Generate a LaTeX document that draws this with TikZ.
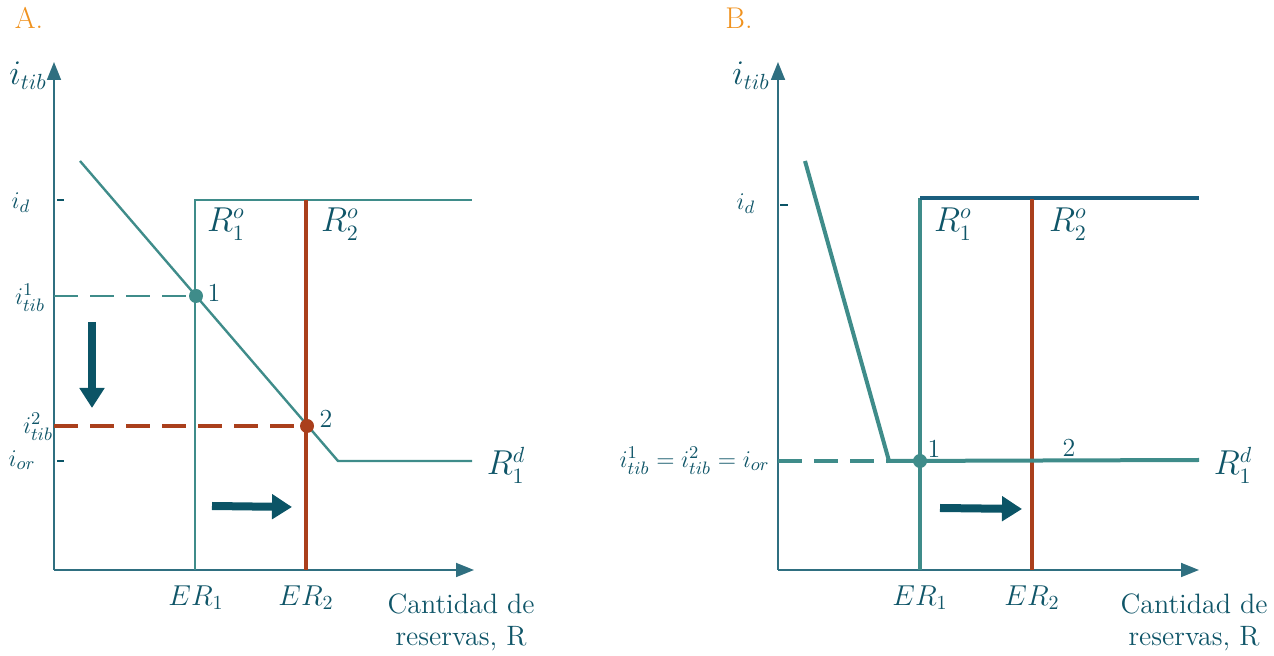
\documentclass[tikz,border=0pt]{standalone}
\usepackage{amsmath}
\usetikzlibrary{arrows.meta}
\definecolor{axc}{HTML}{2F6F80}
\definecolor{txt}{HTML}{0F5568}
\definecolor{teal}{HTML}{3F8C8A}
\definecolor{rust}{HTML}{AA3F1C}
\definecolor{dblue}{HTML}{1A5E7E}
\definecolor{arr}{HTML}{0B5466}
\definecolor{org}{HTML}{F0921E}
\tikzset{
  axis/.style={draw=axc, line width=0.9pt, -{Triangle[length=9pt,width=7pt]}},
  lbl/.style={text=txt, font=\fontsize{13}{15}\selectfont, inner sep=1pt},
  rlbl/.style={text=txt, font=\fontsize{16}{18}\selectfont, inner sep=1pt},
  erlbl/.style={text=txt, font=\fontsize{14}{16}\selectfont, inner sep=1pt},
  big/.style={text=txt, font=\fontsize{14}{16}\selectfont, align=center, inner sep=0pt},
  ttl/.style={text=org, font=\fontsize{15}{17}\selectfont, inner sep=0pt},
  tick/.style={draw=arr, line width=1pt},
  shiftarr/.style={draw=arr, line width=4pt, -{Triangle[length=10pt,width=12pt]}},
  dotp/.style={circle, inner sep=0pt, minimum size=7pt},
  dsh/.style={dash pattern=on 12pt off 6pt},
}
\begin{document}
\begin{tikzpicture}[x=0.5pt,y=-0.5pt]
\useasboundingbox (0,0) rectangle (1274,656);
% ---------------- Panel A ----------------
\node[ttl] (tA) at (29,18) {A.};
\coordinate (oA) at (54,570);
\coordinate (yA) at (54,62);
\coordinate (xA) at (474,570);
\draw[axis] (oA) -- (yA);
\draw[axis] (oA) -- (xA);
\node[rlbl] (itA) at (28,76) {$i_{tib}$};
\coordinate (tdA1) at (57,200); \coordinate (tdA2) at (64,200);
\draw[tick] (tdA1) -- (tdA2);
\coordinate (toA1) at (57,461); \coordinate (toA2) at (64,461);
\draw[tick] (toA1) -- (toA2);
\node[lbl] (idA) at (21,203) {$i_d$};
\node[lbl] (i1A) at (30,298) {$i^1_{tib}$};
\node[lbl] (i2A) at (38,427) {$i^2_{tib}$};
\node[lbl] (iorA) at (22,460) {$i_{or}$};
% supply R1
\coordinate (r1bA) at (195,570);
\coordinate (r1tA) at (195,200);
\coordinate (r1eA) at (472,200);
\draw[teal, line width=1.2pt] (r1bA) -- (r1tA) -- (r1eA);
% supply R2
\coordinate (r2bA) at (306,570);
\coordinate (r2tA) at (306,200);
\draw[rust, line width=2pt] (r2bA) -- (r2tA);
% demand
\coordinate (d0A) at (80,161);
\coordinate (dkA) at (338,461);
\coordinate (deA) at (472,461);
\draw[teal, line width=1.2pt] (d0A) -- (dkA) -- (deA);
% points
\node[dotp, fill=teal] (p1A) at (196,296) {};
\node[dotp, fill=rust] (p2A) at (307,426) {};
\coordinate (h1A) at (54,296);
\coordinate (h2A) at (54,426);
\draw[teal, line width=1.2pt, dsh] (h1A) -- (p1A.center);
\draw[rust, line width=2pt, dsh] (h2A) -- (p2A.center);
\node[lbl] (n1A) at (214,293) {1};
\node[lbl] (n2A) at (326,419) {2};
\node[rlbl] (R1oA) at (226,224) {$R^o_1$};
\node[rlbl] (R2oA) at (340,224) {$R^o_2$};
\node[rlbl] (R1dA) at (506,465) {$R^d_1$};
\node[erlbl] (ER1A) at (196,598) {$ER_1$};
\node[erlbl] (ER2A) at (306,598) {$ER_2$};
\node[big] (xlA) at (461,622) {Cantidad de\\reservas, R};
% shift arrows
\coordinate (adA0) at (92,322); \coordinate (adA1) at (92,408);
\draw[shiftarr] (adA0) -- (adA1);
\coordinate (arA0) at (212,506); \coordinate (arA1) at (292,507);
\draw[shiftarr] (arA0) -- (arA1);
% ---------------- Panel B ----------------
\node[ttl] (tB) at (739,18) {B.};
\coordinate (oB) at (778,570);
\coordinate (yB) at (778,62);
\coordinate (xB) at (1199,570);
\draw[axis] (oB) -- (yB);
\draw[axis] (oB) -- (xB);
\node[rlbl] (itB) at (751,76) {$i_{tib}$};
\coordinate (tdB1) at (780,205); \coordinate (tdB2) at (788,205);
\draw[tick] (tdB1) -- (tdB2);
\node[lbl] (idB) at (746,204) {$i_d$};
\node[lbl, anchor=east] (ieqB) at (772,461) {$i^1_{tib}=i^2_{tib}=i_{or}$};
% supply R1
\coordinate (r1bB) at (920,570);
\coordinate (r1tB) at (920,198);
\coordinate (r1eB) at (1199,198);
\draw[teal, line width=2pt] (r1bB) -- (r1tB);
\draw[dblue, line width=2pt] (r1tB) -- (r1eB);
% supply R2
\coordinate (r2bB) at (1032,570);
\coordinate (r2tB) at (1032,199);
\draw[rust, line width=2pt] (r2bB) -- (r2tB);
% demand
\coordinate (d0B) at (805,161);
\coordinate (dkB) at (889,461);
\coordinate (deB) at (1199,460);
\draw[teal, line width=2pt] (d0B) -- (dkB) -- (deB);
\coordinate (hB) at (778,461);
\draw[teal, line width=2pt, dsh] (hB) -- (dkB);
\node[dotp, fill=teal] (p1B) at (920,461) {};
\node[lbl] (n1B) at (934,449) {1};
\node[lbl] (n2B) at (1069,448) {2};
\node[rlbl] (R1oB) at (953,224) {$R^o_1$};
\node[rlbl] (R2oB) at (1068,224) {$R^o_2$};
\node[rlbl] (R1dB) at (1233,465) {$R^d_1$};
\node[erlbl] (ER1B) at (920,598) {$ER_1$};
\node[erlbl] (ER2B) at (1032,598) {$ER_2$};
\node[big] (xlB) at (1194,622) {Cantidad de\\reservas, R};
\coordinate (arB0) at (940,508); \coordinate (arB1) at (1022,509);
\draw[shiftarr] (arB0) -- (arB1);
\end{tikzpicture}
\end{document}
